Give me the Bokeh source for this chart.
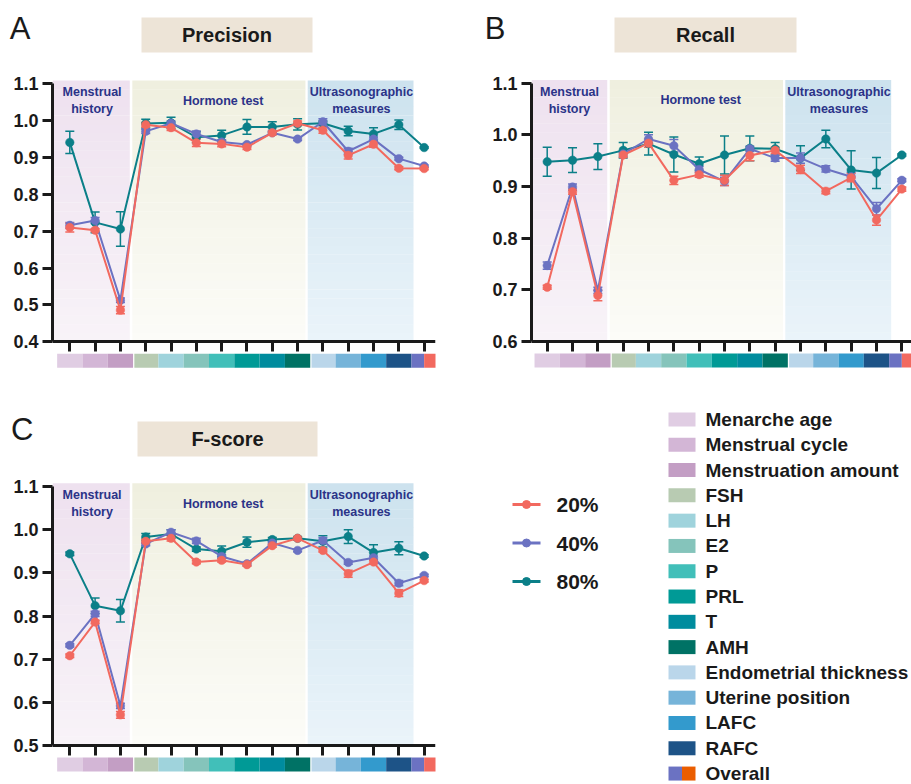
from bokeh.plotting import figure
from bokeh.models import (ColumnDataSource, Range1d, LinearAxis, FixedTicker,
                          PrintfTickFormatter, Whisker, TeeHead, Spacer)
from bokeh.layouts import row, column
from bokeh.embed import file_html
from bokeh.resources import INLINE
from bokeh.core.properties import value

# ---------------- data ----------------
categories = ["Menarche age", "Menstrual cycle", "Menstruation amount", "FSH", "LH", "E2",
              "P", "PRL", "T", "AMH", "Endometrial thickness", "Uterine position",
              "LAFC", "RAFC", "Overall"]
series_names = ["20%", "40%", "80%"]

prec_20 = [0.710, 0.703, 0.486, 0.989, 0.981, 0.940, 0.937, 0.928, 0.967, 0.993, 0.974, 0.906, 0.936, 0.871, 0.870]
prec_40 = [0.716, 0.729, 0.513, 0.971, 0.993, 0.964, 0.942, 0.935, 0.967, 0.950, 0.997, 0.917, 0.950, 0.897, 0.877]
prec_80 = [0.941, 0.724, 0.706, 0.992, 0.994, 0.955, 0.960, 0.983, 0.983, 0.990, 0.993, 0.972, 0.964, 0.989, 0.927]
prec_20_err = [0.012, 0.004, 0.010, 0.006, 0.008, 0.010, 0.008, 0.006, 0.006, 0.006, 0.008, 0.010, 0.008, 0.004, 0.003]
prec_40_err = [0.008, 0.008, 0.006, 0.006, 0.006, 0.008, 0.006, 0.004, 0.004, 0.004, 0.008, 0.008, 0.006, 0.004, 0.003]
prec_80_err = [0.030, 0.028, 0.047, 0.012, 0.015, 0.015, 0.014, 0.020, 0.014, 0.015, 0.006, 0.013, 0.017, 0.013, 0.002]

rec_20 = [0.705, 0.890, 0.689, 0.961, 0.984, 0.912, 0.923, 0.912, 0.960, 0.970, 0.933, 0.891, 0.917, 0.835, 0.895]
rec_40 = [0.747, 0.899, 0.699, 0.963, 0.992, 0.979, 0.933, 0.910, 0.973, 0.955, 0.955, 0.934, 0.919, 0.857, 0.912]
rec_80 = [0.948, 0.951, 0.958, 0.970, 0.983, 0.962, 0.944, 0.961, 0.974, 0.973, 0.955, 0.992, 0.932, 0.926, 0.961]
rec_20_err = [0.004, 0.005, 0.010, 0.005, 0.008, 0.008, 0.005, 0.010, 0.010, 0.006, 0.008, 0.005, 0.008, 0.010, 0.004]
rec_40_err = [0.007, 0.006, 0.006, 0.005, 0.008, 0.012, 0.006, 0.008, 0.005, 0.006, 0.010, 0.006, 0.008, 0.012, 0.003]
rec_80_err = [0.028, 0.024, 0.025, 0.015, 0.022, 0.034, 0.013, 0.037, 0.024, 0.012, 0.024, 0.017, 0.037, 0.030, 0.002]

f_20 = [0.708, 0.786, 0.571, 0.973, 0.980, 0.925, 0.929, 0.919, 0.963, 0.980, 0.952, 0.898, 0.925, 0.853, 0.882]
f_40 = [0.732, 0.805, 0.592, 0.967, 0.994, 0.974, 0.938, 0.921, 0.969, 0.952, 0.975, 0.924, 0.935, 0.876, 0.894]
f_80 = [0.944, 0.824, 0.812, 0.983, 0.990, 0.955, 0.950, 0.971, 0.977, 0.980, 0.973, 0.984, 0.947, 0.957, 0.939]
f_20_err = [0.004, 0.004, 0.008, 0.005, 0.006, 0.004, 0.004, 0.004, 0.004, 0.003, 0.004, 0.008, 0.004, 0.008, 0.003]
f_40_err = [0.004, 0.006, 0.006, 0.004, 0.006, 0.006, 0.004, 0.004, 0.004, 0.003, 0.006, 0.004, 0.004, 0.006, 0.003]
f_80_err = [0.004, 0.018, 0.026, 0.008, 0.010, 0.005, 0.012, 0.012, 0.005, 0.004, 0.013, 0.016, 0.018, 0.015, 0.003]

prec_ticks = [0.4, 0.5, 0.6, 0.7, 0.8, 0.9, 1.0, 1.1]
rec_ticks = [0.6, 0.7, 0.8, 0.9, 1.0, 1.1]
f_ticks = [0.5, 0.6, 0.7, 0.8, 0.9, 1.0, 1.1]

group_labels = ["Menstrual\nhistory", "Hormone test", "Ultrasonographic\nmeasures"]
group_lo = [None, 2.47, 9.40]
group_hi = [2.37, 9.31, 13.58]
group_text_x = [0.88, 6.06, 11.52]

# ---------------- styles ----------------
INK = "#1a1a1a"
NAVY = "#2b3388"
series_colors = ["#f2695f", "#6b72c2", "#0b7f88"]
cat_colors = ["#e0cde3", "#d3b6d6", "#c39ec4", "#b8cbb2", "#9fd3dc", "#85c4bb", "#41bfb9",
              "#009a96", "#008c9e", "#007265", "#bad6ea", "#76b4d9", "#339acd", "#1d5387"]
overall_strip = ["#6b72c2", "#f2695f"]
overall_legend = ["#6b72c2", "#ea5d00"]
grad_top = ["#eee1ef", "#efefdf", "#cce2ee"]
grad_bot = ["#f8f3f8", "#fcfcf8", "#ebf4fa"]
TITLE_FILL = "#ede4d7"
FONT = "Liberation Sans"


def hex2rgb(h):
    h = h.lstrip("#")
    return [int(h[i:i + 2], 16) for i in (0, 2, 4)]


def mix(c1, c2, t):
    a, b = hex2rgb(c1), hex2rgb(c2)
    return "#%02x%02x%02x" % tuple(int(round(a[k] + (b[k] - a[k]) * t)) for k in range(3))


def base_fig(xr, yr, fw, fh, mbl=0, mbr=0):
    p = figure(x_range=xr, y_range=yr, frame_width=int(fw), frame_height=int(fh),
               output_backend="svg", toolbar_location=None, x_axis_location=None,
               y_axis_location=None, min_border_left=mbl, min_border_right=mbr,
               min_border_top=0, min_border_bottom=0, outline_line_color=None,
               background_fill_color="white", border_fill_color="white")
    p.xgrid.visible = False
    p.ygrid.visible = False
    return p


def make_header(letter, title, g, y0, y1, box, letter_gap):
    """Header strip above a panel; its frame shares the panel's x pixels (page coords)."""
    h = base_fig(Range1d(g["fl"], g["fr"]), Range1d(y1, y0), g["fr"] - g["fl"], y1 - y0,
                 g["mbl"], g["mbr"])
    h.quad(left=box[0], right=box[2], top=box[1], bottom=box[3],
           fill_color=TITLE_FILL, line_color=None)
    h.text(x=[(box[0] + box[2]) / 2], y=[(box[1] + box[3]) / 2], text=[title],
           text_font=value(FONT), text_font_style="bold", text_font_size="20px",
           text_color=INK, text_align="center", text_baseline="middle")
    # panel letter, written as the label of an otherwise empty left axis
    lax = LinearAxis(ticker=FixedTicker(ticks=[], minor_ticks=[]), axis_line_color=None,
                     major_tick_line_color=None, minor_tick_line_color=None,
                     axis_label=letter, axis_label_orientation="horizontal",
                     axis_label_standoff=letter_gap, axis_label_text_font=FONT,
                     axis_label_text_font_style="normal", axis_label_text_font_size="31px",
                     axis_label_text_color=INK)
    h.add_layout(lax, "left")
    return h


def make_panel(vals, errs, ticks, g):
    ylo = ticks[0]
    px2x = lambda px: (px - g["x0"]) / g["dx"]
    py2y = lambda py: 1.1 - (py - g["y11"]) / g["ys"]
    xr = Range1d(px2x(g["fl"]), px2x(g["fr"]))
    yr = Range1d(py2y(g["fb"]), py2y(g["ft"]))
    p = base_fig(xr, yr, g["fr"] - g["fl"], g["fb"] - g["ft"], g["mbl"], g["mbr"])

    # background gradient regions
    ytop_bg = 1.1 + 3.0 / g["ys"]
    n = 30
    for gi in range(3):
        lo = group_lo[gi] if group_lo[gi] is not None else xr.start
        hi = group_hi[gi]
        bots, tops, cols = [], [], []
        for k in range(n):
            y0 = ylo + (ytop_bg - ylo) * k / n
            y1 = ylo + (ytop_bg - ylo) * (k + 1) / n
            bots.append(y0)
            tops.append(y1 + 0.0005)
            cols.append(mix(grad_bot[gi], grad_top[gi], (k + 0.5) / n))
        r = p.quad(left=lo, right=hi, bottom=bots, top=tops, fill_color=cols, line_color=None)
        r.level = "image"

    # group labels
    p.text(x=group_text_x, y=[1.1 - 17.0 / g["ys"]] * 3, text=group_labels,
           text_font=value(FONT), text_font_style="bold", text_font_size="12.5px",
           text_color=NAVY, text_align="center", text_baseline="middle",
           text_line_height=1.2)

    # category colour strip below the x axis
    s_top = ylo - 12.0 / g["ys"]
    s_bot = ylo - 26.0 / g["ys"]
    lefts, rights, cols = [], [], []
    for i in range(len(categories) - 1):
        l = i - 0.5 + (0.05 if i in (3, 10) else 0.0)
        lefts.append(l)
        rights.append(i + 0.5)
        cols.append(cat_colors[i])
    last = len(categories) - 1
    lefts += [last - 0.5, last]
    rights += [last, last + 0.5]
    cols += overall_strip
    p.quad(left=lefts, right=rights, top=s_top, bottom=s_bot, fill_color=cols, line_color=None)

    # axes
    yax = LinearAxis(ticker=FixedTicker(ticks=ticks, minor_ticks=[]),
                     formatter=PrintfTickFormatter(format="%.1f"), bounds=(ylo, 1.1),
                     axis_line_width=3, axis_line_color=INK, major_tick_line_width=3,
                     major_tick_line_color=INK, major_tick_out=10, major_tick_in=0,
                     minor_tick_out=0, minor_tick_in=0, major_label_standoff=4,
                     major_label_text_font=FONT, major_label_text_font_style="bold",
                     major_label_text_font_size="18px", major_label_text_color=INK)
    p.add_layout(yax, "left")
    # category ticks (no labels): minor ticks pointing down from the y=min line
    xax = LinearAxis(fixed_location=ylo,
                     ticker=FixedTicker(ticks=[], minor_ticks=list(range(len(categories)))),
                     axis_line_width=3, axis_line_color=INK, major_tick_in=0, major_tick_out=0,
                     minor_tick_line_width=3, minor_tick_line_color=INK,
                     minor_tick_in=10, minor_tick_out=0, major_label_standoff=0)
    p.add_layout(xax, "above")

    xs = list(range(len(categories)))
    for k in [2, 1, 0]:
        v, e = vals[k], errs[k]
        src = ColumnDataSource(dict(x=xs, y=v, up=[a + b for a, b in zip(v, e)],
                                    lo=[a - b for a, b in zip(v, e)]))
        w = Whisker(base="x", upper="up", lower="lo", source=src, dimension="height",
                    line_color=series_colors[k], line_width=1.5,
                    upper_head=TeeHead(size=9, line_color=series_colors[k], line_width=1.5),
                    lower_head=TeeHead(size=9, line_color=series_colors[k], line_width=1.5))
        w.level = "underlay"
        p.add_layout(w)
        p.line("x", "y", source=src, line_color=series_colors[k], line_width=2)
        p.scatter("x", "y", source=src, size=8.5, fill_color=series_colors[k],
                  line_color=series_colors[k], line_width=0.5)
    return p


# page geometry (pixels): columns 0..479 and 479..911; rows 0..376 and 376..784
geoA = dict(x0=69.3, dx=25.31, y11=83.3, ys=368.6, fl=52, fr=435, ft=56, fb=376, mbl=52, mbr=44)
geoB = dict(x0=546.7, dx=25.33, y11=82.7, ys=516.6, fl=531, fr=911, ft=56, fb=376, mbl=52, mbr=0)
geoC = dict(x0=69.3, dx=25.31, y11=486.0, ys=431.7, fl=52, fr=435, ft=466, fb=784, mbl=52, mbr=44)

hA = make_header("A", "Precision", geoA, 0, 56, (141, 17, 312, 52), 22)
hB = make_header("B", "Recall", geoB, 0, 56, (614, 17, 796, 52), 26)
hC = make_header("C", "F-score", geoC, 391, 466, (137, 421, 317, 456), 19)

pA = make_panel([prec_20, prec_40, prec_80], [prec_20_err, prec_40_err, prec_80_err], prec_ticks, geoA)
pB = make_panel([rec_20, rec_40, rec_80], [rec_20_err, rec_40_err, rec_80_err], rec_ticks, geoB)
pC = make_panel([f_20, f_40, f_80], [f_20_err, f_40_err, f_80_err], f_ticks, geoC)

# ---------------- legend panel (page-pixel coordinates) ----------------
pL = base_fig(Range1d(479, 911), Range1d(784, 376), 432, 408)
ser_y = [504 + 38.5 * k for k in range(len(series_names))]
for k in range(len(series_names)):
    pL.line([512, 540], [ser_y[k], ser_y[k]], line_color=series_colors[k], line_width=3)
pL.scatter([526] * 3, ser_y, size=8, fill_color=series_colors, line_color=series_colors)
pL.text(x=[556] * 3, y=ser_y, text=series_names, text_font=value(FONT),
        text_font_style="bold", text_font_size="21px", text_color=INK,
        text_align="left", text_baseline="middle")

cat_y = [419 + 25.29 * i for i in range(len(categories))]
sw_l = [668] * (len(categories) - 1) + [668, 681.5]
sw_r = [695] * (len(categories) - 1) + [681.5, 695]
sw_y = cat_y[:-1] + [cat_y[-1], cat_y[-1]]
sw_c = cat_colors + overall_legend
pL.quad(left=sw_l, right=sw_r, top=[y - 7 for y in sw_y], bottom=[y + 7 for y in sw_y],
        fill_color=sw_c, line_color=None)
pL.text(x=[705] * len(categories), y=cat_y, text=categories, text_font=value(FONT),
        text_font_style="bold", text_font_size="19px", text_color=INK,
        text_align="left", text_baseline="middle")

colA = column(hA, pA)
colB = column(hB, pB)
colC = column(Spacer(width=479, height=15), hC, pC)
layout = column(row(colA, colB), row(colC, pL))
open("out.html", "w").write(file_html(layout, INLINE))
